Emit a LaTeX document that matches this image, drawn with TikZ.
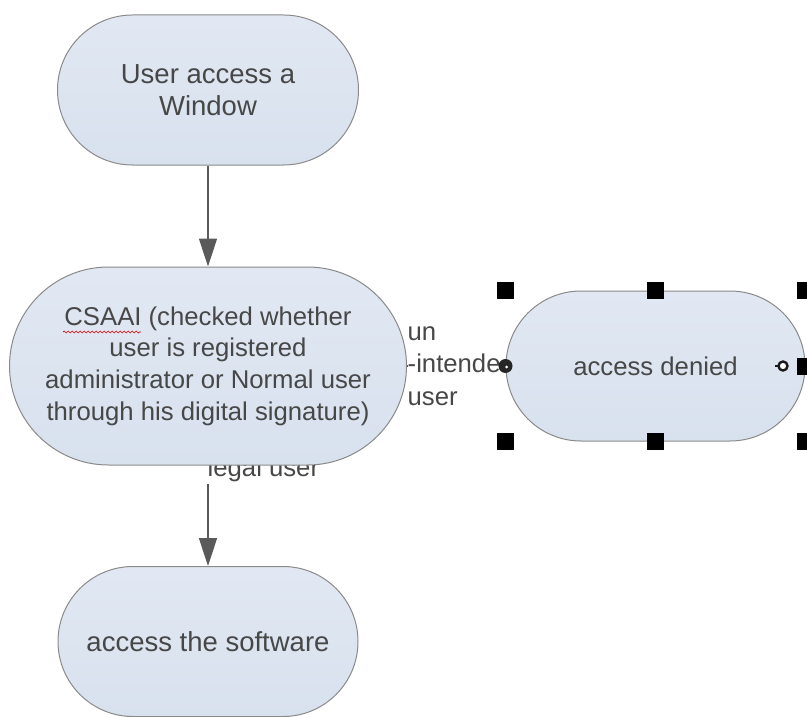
\documentclass[tikz,border=0pt]{standalone}
\usepackage{fontspec}
\setmainfont{Liberation Sans}
\usetikzlibrary{arrows.meta,decorations.pathmorphing}
\pgfdeclarelayer{bg}
\pgfsetlayers{bg,main}

\definecolor{txt}{HTML}{474747}
\definecolor{edgecol}{HTML}{5A5A5A}
\definecolor{fillTop}{HTML}{E1E8F3}
\definecolor{fillBot}{HTML}{D8E1EE}
\definecolor{rim}{HTML}{8A8A8A}

\newcommand{\bigtxt}{\fontsize{27.5pt}{32pt}\selectfont}
\newcommand{\midtxt}{\fontsize{25.7pt}{31.7pt}\selectfont}
\newcommand{\lbltxt}{\fontsize{25.7pt}{32.5pt}\selectfont}

\tikzset{
  term/.style={draw=rim, line width=1pt, top color=fillTop, bottom color=fillBot,
    rounded corners=#1, inner sep=0pt, text=txt, align=center},
  flow/.style={draw=edgecol, line width=1.6pt,
    -{Triangle[length=28pt,width=18pt]}, fill=none},
  conn/.style={draw=edgecol, line width=1.2pt},
  edgelabel/.style={fill=white, text=txt, inner sep=0pt},
  handle/.style={fill=black, minimum size=17pt, inner sep=0pt},
}

\begin{document}
\begin{tikzpicture}[x=1pt,y=-1pt]
\useasboundingbox (0,0) rectangle (807,717);

% terminators
\node[term=75pt, minimum width=301pt, minimum height=150pt, font=\bigtxt]
  (start) at (208,90) {User access a\\Window};
\node[term=99pt, minimum width=397pt, minimum height=198pt, font=\midtxt]
  (check) at (208,366) {CSAAI (checked whether\\user is registered\\administrator or Normal user\\through his digital signature)};
\node[term=75pt, minimum width=300pt, minimum height=150pt, font=\bigtxt]
  (soft) at (208,641.5) {access the software};
\node[term=75pt, minimum width=299pt, minimum height=150pt, font=\midtxt]
  (deny) at (655.5,366) {access denied};

% spelling mark under the acronym
\draw[red!85!black, line width=0.7pt,
  decorate, decoration={snake, segment length=4pt, amplitude=1pt}]
  (63,332) -- (141,332);

% connectors and their labels, kept beneath the shapes
\begin{pgfonlayer}{bg}
  \fill[white] (0,0) rectangle (807,717);
  \draw[flow] (start.south) -- (check.north);
  \draw[flow] (check.south) -- (soft.north);
  \draw[conn] (check.east) -- (deny.west);
  \node[edgelabel, inner xsep=1.5pt, inner ysep=2.5pt, anchor=base west, font=\midtxt]
    (legal) at (206,476) {legal user};
  \node[edgelabel, anchor=west, align=left, font=\lbltxt]
    (why) at (407.5,366) {\strut un\\\strut -intende\\\strut user};
\end{pgfonlayer}

% selection handles around the chosen shape
\foreach \a in {north west,north,north east,south west,south,south east,east}
  \node[handle] at (deny.\a) {};
\fill[black!85] (deny.west) circle (7pt);
\fill[white] ([xshift=1pt,yshift=-1pt]deny.west) circle (1.5pt);
\draw[black!90, line width=2.4pt, fill=white] (783,366) circle (4.5pt);
\draw[black!90, line width=2pt] (778,366) -- (775,366);
\end{tikzpicture}
\end{document}
